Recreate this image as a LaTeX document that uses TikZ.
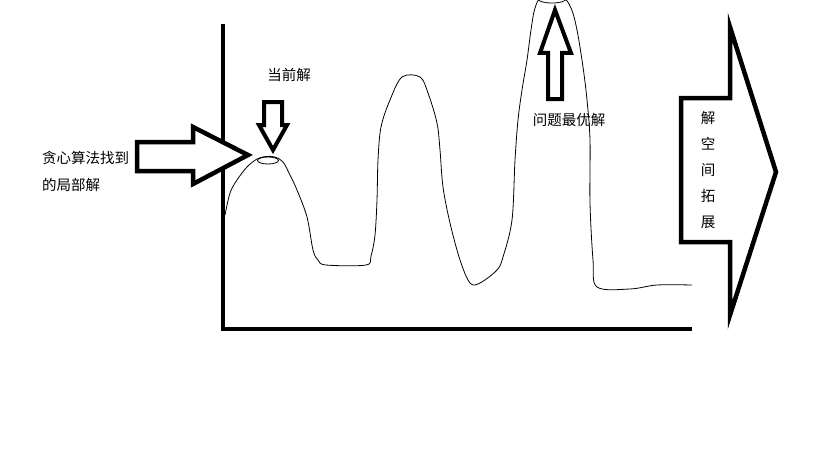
\documentclass[tikz,border=0pt]{standalone}
\usepackage{fontspec}
\newfontfamily\cjk{Noto Sans CJK SC}
\begin{document}
\begin{tikzpicture}[x=1pt,y=-1pt,
  blockarrow/.style={draw=black,line width=4.5pt,line join=miter,fill=white},
  axisline/.style={draw=black,line width=4pt},
  curveline/.style={draw=black,line width=0.8pt},
  lbl/.style={font=\cjk\fontsize{14.5}{16}\selectfont,inner sep=0pt,text=black}]
\useasboundingbox (0,0) rectangle (819,460);
% axes
\coordinate (ytop) at (223,24);
\coordinate (orig) at (223,329);
\coordinate (xend) at (692,329);
\draw[axisline] (ytop) -- (orig) -- (xend);
% curve
\draw[curveline] plot[smooth,tension=0.55] coordinates {
 (225,215) (230,193) (237,180) (247,167) (257,159) (266,156.5) (275,157) (283,162)
 (290,175) (297,190) (307,217) (313,250) (318,260) (326,265) (366,265) (371,256)
 (375,235) (377,200) (378,160) (381,127) (390,100) (402,77) (420,77) (428,93)
 (437,123) (440,150) (443,187) (450,223) (460,260) (470,283) (480,283) (497,270)
 (503,257) (512,220) (515,160) (518,120) (522,90) (527,60) (531,30) (535,8)
 (542,-3) (562,-3) (571,8) (577,30) (583,67) (587,100) (590,140) (590,203)
 (593,260) (597,287) (630,289) (657,285) (692,285)};
% peak ellipses
\draw[curveline] (268,160.5) ellipse (10.5 and 3.5);
\draw[curveline] (552,-1) ellipse (14 and 4);
% left block arrow
\draw[blockarrow] (137,142) -- (193,142) -- (193,127) -- (248,155) -- (193,184)
  -- (193,171) -- (137,171) -- cycle;
% current solution arrow (down)
\draw[blockarrow,line width=4pt] (264,102) -- (282,102) -- (282,125) -- (287,125)
  -- (273,150) -- (259,125) -- (264,125) -- cycle;
% best solution arrow (up)
\draw[blockarrow,line width=4pt] (548,99) -- (562,99) -- (562,53) -- (571,53)
  -- (555,10) -- (540,53) -- (548,53) -- cycle;
% right big arrow
\draw[blockarrow] (681,98) -- (730,98) -- (730,27) -- (776,172) -- (730,315)
  -- (730,242) -- (681,242) -- cycle;
% labels
\node[lbl,anchor=west] (greedy1) at (42,158) {贪心算法找到};
\node[lbl,anchor=west] (greedy2) at (42,185) {的局部解};
\node[lbl] (cur) at (289,75) {当前解};
\node[lbl] (best) at (569,120) {问题最优解};
\node[lbl,align=center,font=\cjk\fontsize{14.5}{26}\selectfont] (expand) at (708,170)
  {解\\空\\间\\拓\\展};
\end{tikzpicture}
\end{document}
